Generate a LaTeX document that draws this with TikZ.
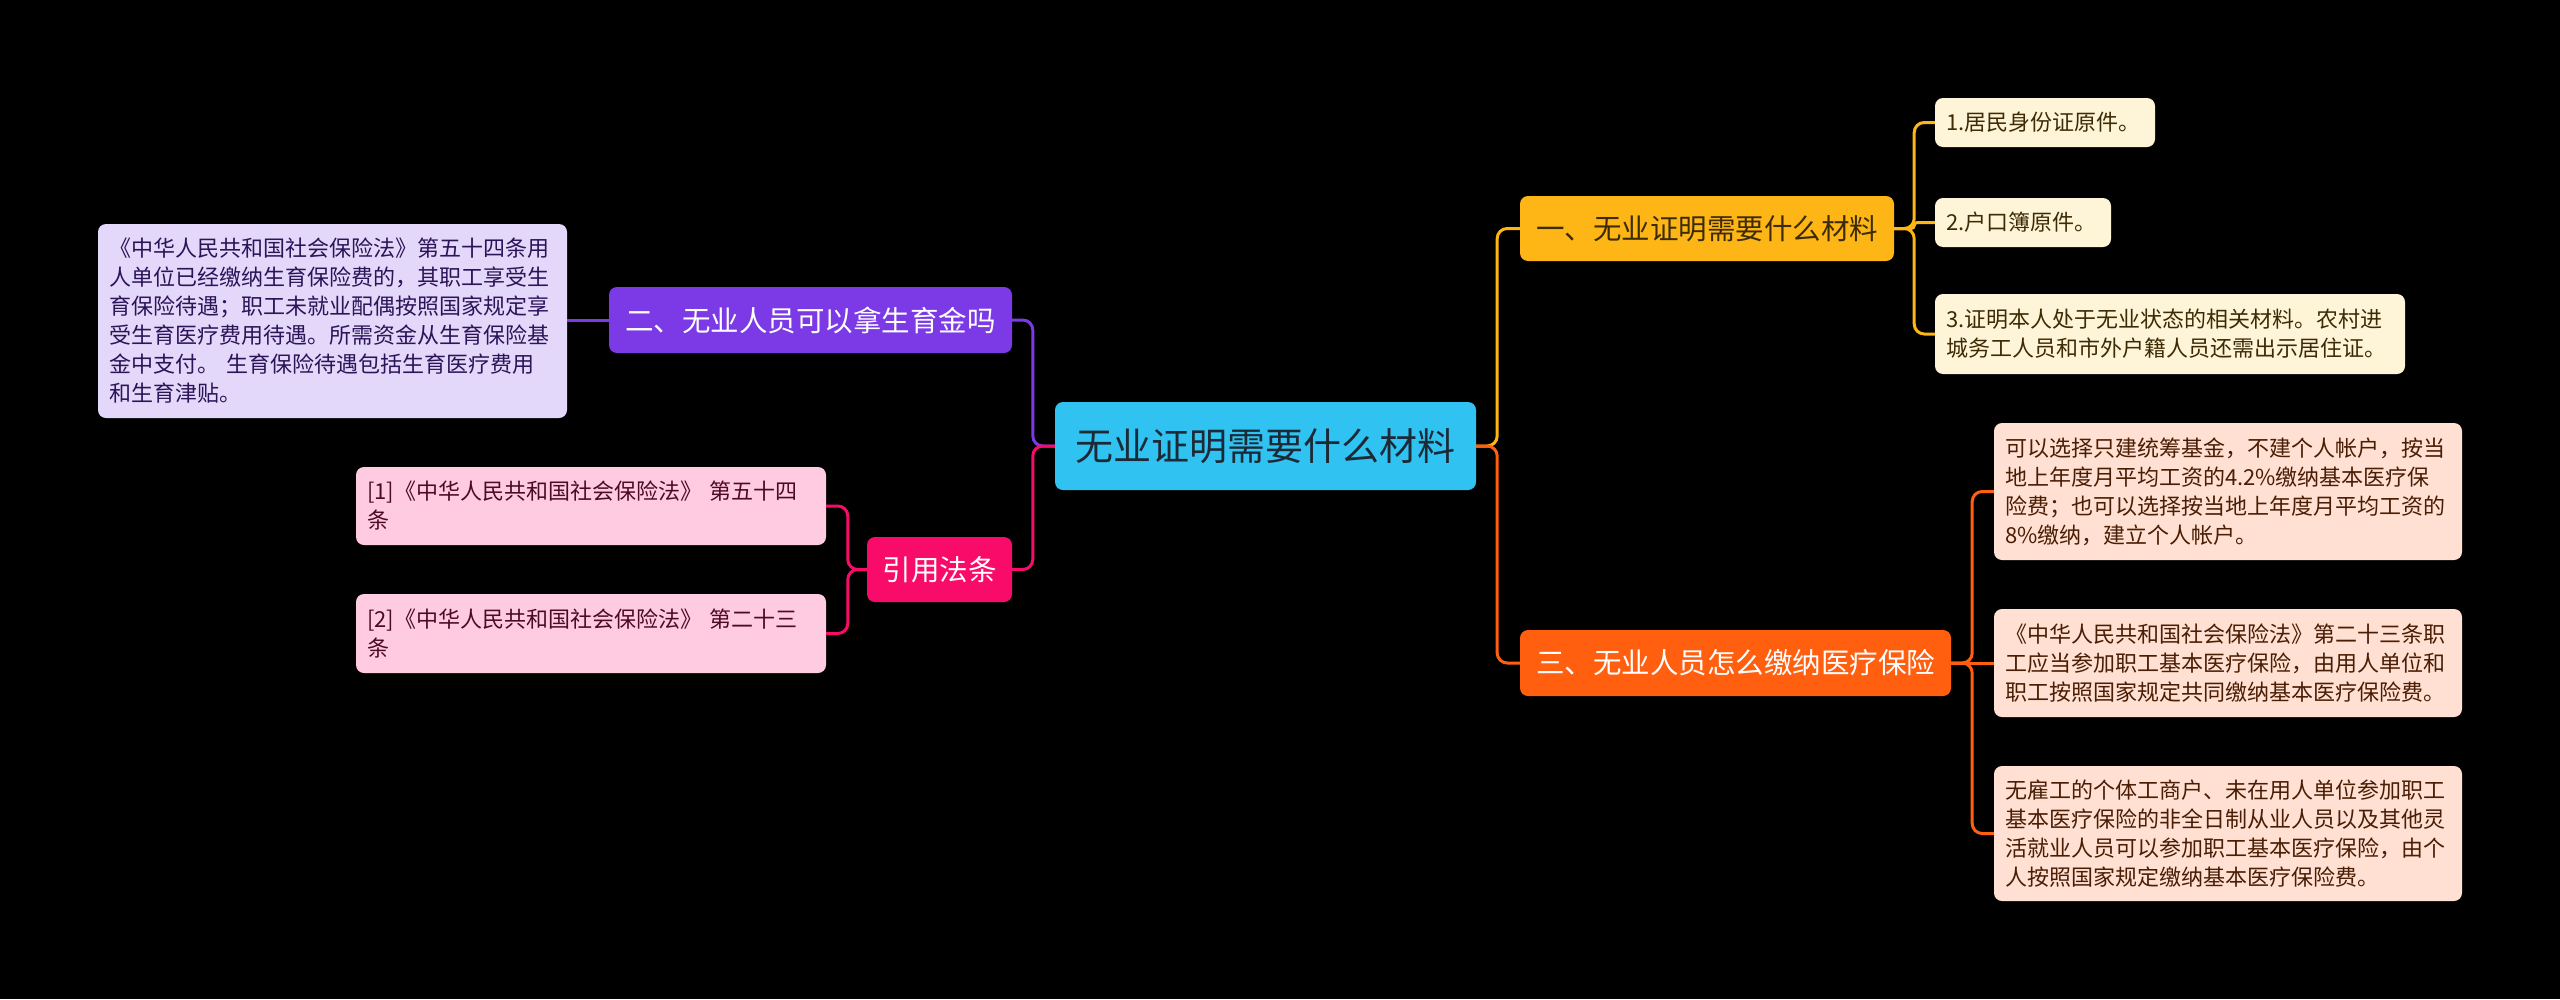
\documentclass[tikz,border=0pt]{standalone}
\usepackage{fontspec}
\setmainfont{Noto Sans CJK SC}
\definecolor{rootc}{HTML}{30C3F1}
\definecolor{amber}{HTML}{FDB615}
\definecolor{orangec}{HTML}{FF5F0F}
\definecolor{purplec}{HTML}{7B3AE6}
\definecolor{pinkc}{HTML}{F90C69}
\definecolor{lonec}{HTML}{FEF5D8}
\definecolor{lthreec}{HTML}{FFE0D2}
\definecolor{ltwoc}{HTML}{E4D8FA}
\definecolor{lfourc}{HTML}{FFCBE0}
\definecolor{roott}{HTML}{1C2A38}
\definecolor{lonet}{HTML}{3D2B05}
\definecolor{lthreet}{HTML}{4A1D05}
\definecolor{ltwot}{HTML}{2B1458}
\definecolor{lfourt}{HTML}{4D0A25}
\begin{document}
\begin{tikzpicture}[x=1pt,y=-1pt,
  base/.style={rectangle, rounded corners=8pt, inner sep=0pt, anchor=center},
  rootbox/.style={base, fill=rootc, text=roott, font=\fontsize{38}{44}\selectfont},
  branchbox/.style={base, font=\fontsize{28.5}{34}\selectfont},
  leafbox/.style={base, align=left, inner xsep=11pt, font=\fontsize{22}{29}\selectfont},
  conn/.style={line width=3pt, rounded corners=10pt}]
\fill[black] (0,0) rectangle (2560,999);
\useasboundingbox (0,0) rectangle (2560,999);

% root
\node[rootbox, minimum width=421pt, minimum height=88pt] (root) at (1265.5,446) {无业证明需要什么材料};

% branches
\node[branchbox, fill=amber, text=lonet, minimum width=374pt, minimum height=65pt] (b1) at (1707,228.5) {一、无业证明需要什么材料};
\node[branchbox, fill=orangec, text=white, minimum width=431pt, minimum height=66pt] (b3) at (1735.5,663) {三、无业人员怎么缴纳医疗保险};
\node[branchbox, fill=purplec, text=white, minimum width=403pt, minimum height=66pt] (b2) at (810.5,320) {二、无业人员可以拿生育金吗};
\node[branchbox, fill=pinkc, text=white, minimum width=145pt, minimum height=65pt] (b4) at (939.5,569.5) {引用法条};

% leaves of b1
\node[leafbox, fill=lonec, text=lonet, text width=198pt, minimum height=49pt] (l1a) at (2045,122.5) {1.居民身份证原件。};
\node[leafbox, fill=lonec, text=lonet, text width=154pt, minimum height=49pt] (l1b) at (2023,222.5) {2.户口簿原件。};
\node[leafbox, fill=lonec, text=lonet, text width=448pt, minimum height=80pt] (l1c) at (2170,334) {3.证明本人处于无业状态的相关材料。农村进\\城务工人员和市外户籍人员还需出示居住证。};

% leaves of b3
\node[leafbox, fill=lthreec, text=lthreet, text width=446pt, minimum height=137pt] (l3a) at (2228,491.5) {可以选择只建统筹基金，不建个人帐户，按当\\地上年度月平均工资的4.2\%缴纳基本医疗保\\险费；也可以选择按当地上年度月平均工资的\\8\%缴纳，建立个人帐户。};
\node[leafbox, fill=lthreec, text=lthreet, text width=446pt, minimum height=108pt] (l3b) at (2228,663) {《中华人民共和国社会保险法》第二十三条职\\工应当参加职工基本医疗保险，由用人单位和\\职工按照国家规定共同缴纳基本医疗保险费。};
\node[leafbox, fill=lthreec, text=lthreet, text width=446pt, minimum height=135pt] (l3c) at (2228,833.5) {无雇工的个体工商户、未在用人单位参加职工\\基本医疗保险的非全日制从业人员以及其他灵\\活就业人员可以参加职工基本医疗保险，由个\\人按照国家规定缴纳基本医疗保险费。};

% leaf of b2
\node[leafbox, fill=ltwoc, text=ltwot, text width=447pt, minimum height=194pt] (l2) at (332.5,321) {《中华人民共和国社会保险法》第五十四条用\\人单位已经缴纳生育保险费的，其职工享受生\\育保险待遇；职工未就业配偶按照国家规定享\\受生育医疗费用待遇。所需资金从生育保险基\\金中支付。 生育保险待遇包括生育医疗费用\\和生育津贴。};

% leaves of b4
\node[leafbox, fill=lfourc, text=lfourt, text width=448pt, minimum height=78pt] (l4a) at (591,506) {[1]《中华人民共和国社会保险法》 第五十四\\条};
\node[leafbox, fill=lfourc, text=lfourt, text width=448pt, minimum height=79pt] (l4b) at (591,633.5) {[2]《中华人民共和国社会保险法》 第二十三\\条};

% connectors root -> branches
\draw[conn, amber] (root.east) -- ++(21,0) |- (b1.west);
\draw[conn, orangec] (root.east) -- ++(21,0) |- (b3.west);
\draw[conn, purplec] (root.west) -- ++(-22,0) |- (b2.east);
\draw[conn, pinkc] (root.west) -- ++(-22,0) |- (b4.east);

% b1 -> leaves
\draw[conn, amber] (b1.east) -- ++(20,0) |- (l1a.west);
\draw[line width=3pt, rounded corners=3pt, amber] (b1.east) -- ++(20,0) |- (l1b.west);
\draw[conn, amber] (b1.east) -- ++(20,0) |- (l1c.west);

% b3 -> leaves
\draw[conn, orangec] (b3.east) -- ++(21,0) |- (l3a.west);
\draw[conn, orangec] (b3.east) -- (l3b.west);
\draw[conn, orangec] (b3.east) -- ++(21,0) |- (l3c.west);

% b2 -> leaf
\draw[conn, purplec] (b2.west) -- (b2.west -| l2.east);

% b4 -> leaves
\draw[conn, pinkc] (b4.west) -- ++(-19,0) |- (l4a.east);
\draw[conn, pinkc] (b4.west) -- ++(-19,0) |- (l4b.east);
\end{tikzpicture}
\end{document}
